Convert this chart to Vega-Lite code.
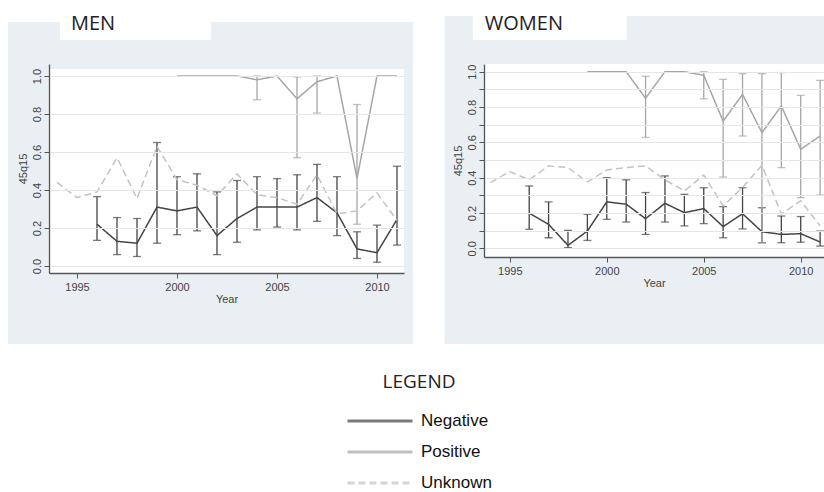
{
  "$schema": "https://vega.github.io/schema/vega-lite/v6.json",
  "background": "white",
  "padding": {"left": 8, "top": 0, "right": 0, "bottom": 0},
  "spacing": 80,
  "bounds": "flush",
  "datasets": {
    "men": [
      {"year": 1996, "series": "Negative", "value": 0.22, "lo": 0.135, "hi": 0.365},
      {"year": 1997, "series": "Negative", "value": 0.13, "lo": 0.06, "hi": 0.255},
      {"year": 1998, "series": "Negative", "value": 0.12, "lo": 0.05, "hi": 0.25},
      {"year": 1999, "series": "Negative", "value": 0.31, "lo": 0.12, "hi": 0.65},
      {"year": 2000, "series": "Negative", "value": 0.29, "lo": 0.165, "hi": 0.47},
      {"year": 2001, "series": "Negative", "value": 0.31, "lo": 0.185, "hi": 0.485},
      {"year": 2002, "series": "Negative", "value": 0.16, "lo": 0.06, "hi": 0.39},
      {"year": 2003, "series": "Negative", "value": 0.25, "lo": 0.125, "hi": 0.45},
      {"year": 2004, "series": "Negative", "value": 0.31, "lo": 0.19, "hi": 0.47},
      {"year": 2005, "series": "Negative", "value": 0.31, "lo": 0.205, "hi": 0.46},
      {"year": 2006, "series": "Negative", "value": 0.31, "lo": 0.19, "hi": 0.48},
      {"year": 2007, "series": "Negative", "value": 0.36, "lo": 0.235, "hi": 0.535},
      {"year": 2008, "series": "Negative", "value": 0.28, "lo": 0.16, "hi": 0.47},
      {"year": 2009, "series": "Negative", "value": 0.09, "lo": 0.04, "hi": 0.18},
      {"year": 2010, "series": "Negative", "value": 0.07, "lo": 0.02, "hi": 0.215},
      {"year": 2011, "series": "Negative", "value": 0.245, "lo": 0.11, "hi": 0.525},
      {"year": 2000, "series": "Positive", "value": 1.0, "lo": null, "hi": null},
      {"year": 2001, "series": "Positive", "value": 1.0, "lo": null, "hi": null},
      {"year": 2002, "series": "Positive", "value": 1.0, "lo": null, "hi": null},
      {"year": 2003, "series": "Positive", "value": 1.0, "lo": null, "hi": null},
      {"year": 2004, "series": "Positive", "value": 0.98, "lo": 0.875, "hi": 1.0},
      {"year": 2005, "series": "Positive", "value": 1.0, "lo": null, "hi": null},
      {"year": 2006, "series": "Positive", "value": 0.88, "lo": 0.57, "hi": 0.995},
      {"year": 2007, "series": "Positive", "value": 0.97, "lo": 0.805, "hi": 1.0},
      {"year": 2008, "series": "Positive", "value": 1.0, "lo": null, "hi": null},
      {"year": 2009, "series": "Positive", "value": 0.46, "lo": 0.22, "hi": 0.85},
      {"year": 2010, "series": "Positive", "value": 1.0, "lo": null, "hi": null},
      {"year": 2011, "series": "Positive", "value": 1.0, "lo": null, "hi": null},
      {"year": 1994, "series": "Unknown", "value": 0.44, "lo": null, "hi": null},
      {"year": 1995, "series": "Unknown", "value": 0.36, "lo": null, "hi": null},
      {"year": 1996, "series": "Unknown", "value": 0.39, "lo": null, "hi": null},
      {"year": 1997, "series": "Unknown", "value": 0.57, "lo": null, "hi": null},
      {"year": 1998, "series": "Unknown", "value": 0.355, "lo": null, "hi": null},
      {"year": 1999, "series": "Unknown", "value": 0.63, "lo": null, "hi": null},
      {"year": 2000, "series": "Unknown", "value": 0.455, "lo": null, "hi": null},
      {"year": 2001, "series": "Unknown", "value": 0.425, "lo": null, "hi": null},
      {"year": 2002, "series": "Unknown", "value": 0.37, "lo": null, "hi": null},
      {"year": 2003, "series": "Unknown", "value": 0.485, "lo": null, "hi": null},
      {"year": 2004, "series": "Unknown", "value": 0.375, "lo": null, "hi": null},
      {"year": 2005, "series": "Unknown", "value": 0.36, "lo": null, "hi": null},
      {"year": 2006, "series": "Unknown", "value": 0.325, "lo": null, "hi": null},
      {"year": 2007, "series": "Unknown", "value": 0.48, "lo": null, "hi": null},
      {"year": 2008, "series": "Unknown", "value": 0.275, "lo": null, "hi": null},
      {"year": 2009, "series": "Unknown", "value": 0.29, "lo": null, "hi": null},
      {"year": 2010, "series": "Unknown", "value": 0.385, "lo": null, "hi": null},
      {"year": 2011, "series": "Unknown", "value": 0.24, "lo": null, "hi": null}
    ],
    "women": [
      {"year": 1996, "series": "Negative", "value": 0.2, "lo": 0.108, "hi": 0.353},
      {"year": 1997, "series": "Negative", "value": 0.136, "lo": 0.06, "hi": 0.263},
      {"year": 1998, "series": "Negative", "value": 0.017, "lo": 0.004, "hi": 0.102},
      {"year": 1999, "series": "Negative", "value": 0.098, "lo": 0.045, "hi": 0.193},
      {"year": 2000, "series": "Negative", "value": 0.263, "lo": 0.164, "hi": 0.4},
      {"year": 2001, "series": "Negative", "value": 0.25, "lo": 0.149, "hi": 0.388},
      {"year": 2002, "series": "Negative", "value": 0.168, "lo": 0.079, "hi": 0.316},
      {"year": 2003, "series": "Negative", "value": 0.255, "lo": 0.149, "hi": 0.41},
      {"year": 2004, "series": "Negative", "value": 0.202, "lo": 0.127, "hi": 0.306},
      {"year": 2005, "series": "Negative", "value": 0.225, "lo": 0.14, "hi": 0.343},
      {"year": 2006, "series": "Negative", "value": 0.123, "lo": 0.06, "hi": 0.236},
      {"year": 2007, "series": "Negative", "value": 0.196, "lo": 0.11, "hi": 0.343},
      {"year": 2008, "series": "Negative", "value": 0.094, "lo": 0.032, "hi": 0.23},
      {"year": 2009, "series": "Negative", "value": 0.079, "lo": 0.032, "hi": 0.183},
      {"year": 2010, "series": "Negative", "value": 0.083, "lo": 0.035, "hi": 0.18},
      {"year": 2011, "series": "Negative", "value": 0.036, "lo": 0.013, "hi": 0.098},
      {"year": 1999, "series": "Positive", "value": 1.0, "lo": null, "hi": null},
      {"year": 2000, "series": "Positive", "value": 1.0, "lo": null, "hi": null},
      {"year": 2001, "series": "Positive", "value": 1.0, "lo": null, "hi": null},
      {"year": 2002, "series": "Positive", "value": 0.85, "lo": 0.628, "hi": 0.974},
      {"year": 2003, "series": "Positive", "value": 1.0, "lo": null, "hi": null},
      {"year": 2004, "series": "Positive", "value": 1.0, "lo": null, "hi": null},
      {"year": 2005, "series": "Positive", "value": 0.98, "lo": 0.847, "hi": 1.0},
      {"year": 2006, "series": "Positive", "value": 0.72, "lo": 0.404, "hi": 0.957},
      {"year": 2007, "series": "Positive", "value": 0.872, "lo": 0.636, "hi": 0.989},
      {"year": 2008, "series": "Positive", "value": 0.655, "lo": 0.03, "hi": 0.989},
      {"year": 2009, "series": "Positive", "value": 0.806, "lo": 0.457, "hi": 0.995},
      {"year": 2010, "series": "Positive", "value": 0.561, "lo": 0.287, "hi": 0.866},
      {"year": 2011, "series": "Positive", "value": 0.636, "lo": 0.302, "hi": 0.951},
      {"year": 1994, "series": "Unknown", "value": 0.372, "lo": null, "hi": null},
      {"year": 1995, "series": "Unknown", "value": 0.435, "lo": null, "hi": null},
      {"year": 1996, "series": "Unknown", "value": 0.388, "lo": null, "hi": null},
      {"year": 1997, "series": "Unknown", "value": 0.467, "lo": null, "hi": null},
      {"year": 1998, "series": "Unknown", "value": 0.457, "lo": null, "hi": null},
      {"year": 1999, "series": "Unknown", "value": 0.376, "lo": null, "hi": null},
      {"year": 2000, "series": "Unknown", "value": 0.444, "lo": null, "hi": null},
      {"year": 2001, "series": "Unknown", "value": 0.457, "lo": null, "hi": null},
      {"year": 2002, "series": "Unknown", "value": 0.467, "lo": null, "hi": null},
      {"year": 2003, "series": "Unknown", "value": 0.388, "lo": null, "hi": null},
      {"year": 2004, "series": "Unknown", "value": 0.325, "lo": null, "hi": null},
      {"year": 2005, "series": "Unknown", "value": 0.415, "lo": null, "hi": null},
      {"year": 2006, "series": "Unknown", "value": 0.24, "lo": null, "hi": null},
      {"year": 2007, "series": "Unknown", "value": 0.345, "lo": null, "hi": null},
      {"year": 2008, "series": "Unknown", "value": 0.47, "lo": null, "hi": null},
      {"year": 2009, "series": "Unknown", "value": 0.195, "lo": null, "hi": null},
      {"year": 2010, "series": "Unknown", "value": 0.27, "lo": null, "hi": null},
      {"year": 2011, "series": "Unknown", "value": 0.127, "lo": null, "hi": null}
    ]
  },
  "hconcat": [
    {
      "width": 355,
      "height": 209,
      "layer": [
        {
          "data": {"values": [{}]},
          "mark": {"type": "rect", "color": "#e9eff3"},
          "encoding": {
            "x": {"datum": 1991.55, "type": "quantitative", "title": "Year", "scale": {"domain": [1993.6, 2011.35], "nice": false, "zero": false},
              "axis": {"title": "Year", "zindex": 1, "values": [1995, 2000, 2005, 2010], "format": "d", "tickSize": 5, "labelPadding": 3, "titlePadding": 1, "grid": false}},
            "x2": {"datum": 2011.8},
            "y": {"datum": 1.284, "type": "quantitative", "title": "45q15", "scale": {"domain": [-0.0368, 1.0632], "nice": false, "zero": false},
              "axis": {"title": "45q15", "zindex": 1, "values": [0, 0.1, 0.2, 0.3, 0.4, 0.5, 0.6, 0.7, 0.8, 0.9, 1.0], "format": ".1f",
                "labelColor": {"condition": {"test": "round(datum.value*10) % 2 == 1", "value": "transparent"}, "value": "#444"},
                "labelOverlap": false, "labelAngle": -90, "labelAlign": "center", "labelBaseline": "bottom", "grid": true, "tickSize": 5, "labelPadding": 2, "titlePadding": 3}},
            "y2": {"datum": -0.4105}
          }
        },
        {
          "data": {"values": [{}]},
          "mark": {"type": "rect", "color": "white"},
          "encoding": {
            "x": {"datum": 1993.6, "type": "quantitative", "title": "Year"},
            "x2": {"datum": 2011.35},
            "y": {"datum": 1.0368, "type": "quantitative", "title": "45q15"},
            "y2": {"datum": -0.0368}
          }
        },
        {
          "data": {"values": [{}]},
          "mark": {"type": "rect", "color": "white"},
          "encoding": {
            "x": {"datum": 1994.15, "type": "quantitative", "title": "Year"},
            "x2": {"datum": 2001.7},
            "y": {"datum": 1.3947, "type": "quantitative", "title": "45q15"},
            "y2": {"datum": 1.1895}
          }
        },
        {
          "data": {"values": [{"label": "MEN"}]},
          "mark": {"type": "text", "font": "Open Sans", "fontSize": 20, "align": "left", "baseline": "alphabetic", "color": "#222"},
          "encoding": {
            "x": {"datum": 1994.7, "type": "quantitative", "title": "Year"},
            "y": {"datum": 1.2447, "type": "quantitative", "title": "45q15"},
            "text": {"field": "label"}
          }
        },
        {
          "data": {"name": "men"},
          "transform": [{"filter": "isValid(datum.lo)"}],
          "mark": {"type": "errorbar", "ticks": {"size": 8}, "thickness": 1.3},
          "encoding": {
            "x": {"field": "year", "type": "quantitative", "title": "Year"},
            "y": {"field": "lo", "type": "quantitative", "title": "45q15"},
            "y2": {"field": "hi"},
            "color": {"field": "series", "type": "nominal"}
          }
        },
        {
          "data": {"name": "men"},
          "mark": {"type": "line", "strokeWidth": 1.5},
          "encoding": {
            "x": {"field": "year", "type": "quantitative", "title": "Year"},
            "y": {"field": "value", "type": "quantitative", "title": "45q15"},
            "color": {"field": "series", "type": "nominal"},
            "strokeDash": {"field": "series", "type": "nominal"}
          }
        }
      ]
    },
    {
      "width": 340,
      "height": 193,
      "layer": [
        {
          "data": {"values": [{}]},
          "mark": {"type": "rect", "color": "#e9eff3"},
          "encoding": {
            "x": {"datum": 1991.64, "type": "quantitative", "title": "Year", "scale": {"domain": [1993.67, 2011.2], "nice": false, "zero": false},
              "axis": {"title": "Year", "zindex": 1, "values": [1995, 2000, 2005, 2010], "format": "d", "tickSize": 5, "labelPadding": 3, "titlePadding": 1, "grid": false}},
            "x2": {"datum": 2011.2},
            "y": {"datum": 1.3154, "type": "quantitative", "title": "45q15", "scale": {"domain": [-0.049, 1.0437], "nice": false, "zero": false},
              "axis": {"title": "45q15", "zindex": 1, "values": [0, 0.1, 0.2, 0.3, 0.4, 0.5, 0.6, 0.7, 0.8, 0.9, 1.0], "tickCount": 11, "format": ".1f",
                "labelColor": {"condition": {"test": "round(datum.value*10) % 2 == 1", "value": "transparent"}, "value": "#444"},
                "labelOverlap": false, "labelAngle": -90, "labelAlign": "center", "labelBaseline": "bottom", "grid": true, "tickSize": 5, "labelPadding": 2, "titlePadding": 3}},
            "y2": {"datum": -0.5419}
          }
        },
        {
          "data": {"values": [{}]},
          "mark": {"type": "rect", "color": "white"},
          "encoding": {
            "x": {"datum": 1993.67, "type": "quantitative", "title": "Year"},
            "x2": {"datum": 2011.2},
            "y": {"datum": 1.0437, "type": "quantitative", "title": "45q15"},
            "y2": {"datum": -0.049}
          }
        },
        {
          "data": {"values": [{}]},
          "mark": {"type": "rect", "color": "white"},
          "encoding": {
            "x": {"datum": 1993.09, "type": "quantitative", "title": "Year"},
            "x2": {"datum": 2001.03},
            "y": {"datum": 1.4004, "type": "quantitative", "title": "45q15"},
            "y2": {"datum": 1.1796}
          }
        },
        {
          "data": {"values": [{"label": "WOMEN"}]},
          "mark": {"type": "text", "font": "Open Sans", "fontSize": 20, "align": "left", "baseline": "alphabetic", "color": "#222"},
          "encoding": {
            "x": {"datum": 1993.71, "type": "quantitative", "title": "Year"},
            "y": {"datum": 1.239, "type": "quantitative", "title": "45q15"},
            "text": {"field": "label"}
          }
        },
        {
          "data": {"name": "women"},
          "transform": [{"filter": "isValid(datum.lo)"}],
          "mark": {"type": "errorbar", "ticks": {"size": 8}, "thickness": 1.3},
          "encoding": {
            "x": {"field": "year", "type": "quantitative", "title": "Year"},
            "y": {"field": "lo", "type": "quantitative", "title": "45q15"},
            "y2": {"field": "hi"},
            "color": {"field": "series", "type": "nominal"}
          }
        },
        {
          "data": {"name": "women"},
          "mark": {"type": "line", "strokeWidth": 1.5},
          "encoding": {
            "x": {"field": "year", "type": "quantitative", "title": "Year"},
            "y": {"field": "value", "type": "quantitative", "title": "45q15",
              "axis": {"title": "45q15", "zindex": 1, "values": [0, 0.1, 0.2, 0.3, 0.4, 0.5, 0.6, 0.7, 0.8, 0.9, 1.0], "tickCount": 11, "format": ".1f",
                "labelColor": {"condition": {"test": "round(datum.value*10) % 2 == 1", "value": "transparent"}, "value": "#444"},
                "labelOverlap": false, "labelAngle": -90, "labelAlign": "center", "labelBaseline": "bottom", "grid": true, "tickSize": 5, "labelPadding": 2, "titlePadding": 3}},
            "color": {"field": "series", "type": "nominal",
              "scale": {"domain": ["Negative", "Positive", "Unknown"], "range": ["#444444", "#a6a6a6", "#c3c3c3"]},
              "legend": {"title": "LEGEND", "orient": "none", "legendX": 297, "legendY": 309}},
            "strokeDash": {"field": "series", "type": "nominal",
              "scale": {"domain": ["Negative", "Positive", "Unknown"], "range": [[1, 0], [1, 0], [7, 4]]},
              "legend": {"title": "LEGEND", "orient": "none", "legendX": 297, "legendY": 309}}
          }
        }
      ]
    }
  ],
  "resolve": {"scale": {"color": "shared", "strokeDash": "shared"}},
  "config": {
    "font": "Liberation Sans",
    "view": {"stroke": null},
    "axis": {
      "labelFont": "Liberation Sans", "titleFont": "Liberation Sans",
      "labelFontSize": 11, "titleFontSize": 11, "titleFontWeight": "normal",
      "labelColor": "#444", "titleColor": "#444",
      "domainColor": "#555", "tickColor": "#555", "domainWidth": 1.3, "tickWidth": 1,
      "gridColor": "#e6e6e6", "gridWidth": 1, "labelOverlap": false
    },
    "legend": {
      "titleFont": "Open Sans", "titleFontSize": 19, "titleFontWeight": "normal", "titleColor": "#222",
      "titleAnchor": "middle", "titleAlign": "center", "titlePadding": 19,
      "labelFont": "Liberation Sans", "labelFontSize": 17, "labelColor": "#111", "labelOffset": 7,
      "symbolType": "stroke", "symbolSize": 4225, "symbolStrokeWidth": 3,
      "clipHeight": 20, "rowPadding": 11, "padding": 0
    }
  }
}
